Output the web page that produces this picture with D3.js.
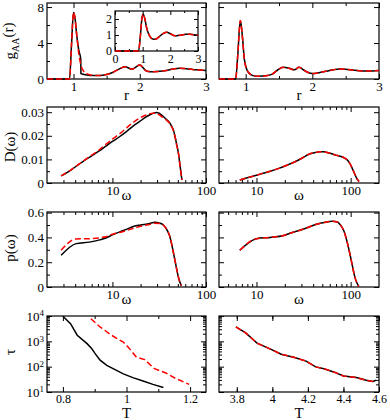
<!DOCTYPE html>
<html>
<head>
<meta charset="utf-8">
<script src="https://cdn.jsdelivr.net/npm/d3@7/dist/d3.min.js"></script>
<style>
  body { margin: 0; background: #fff; }
</style>
</head>
<body>
<svg id="chart" width="390" height="420"></svg>
<script>
// ---- values ----

// g_AA(r), left column (black has a small step after the first peak)
var grLeftBlackR = [0.6, 0.94, 0.97, 1.0, 1.02, 1.05, 1.08, 1.11, 1.112, 1.2, 1.3, 1.4, 1.5, 1.6, 1.7, 1.78, 1.88, 2.0, 2.1, 2.2, 2.3, 2.4, 2.5, 2.6, 2.7, 2.8, 2.9, 3.0];
var grLeftBlackG = [0, 0, 3.8, 7.4, 6.9, 4.8, 3.2, 2.2, 0.6, 0.45, 0.38, 0.38, 0.5, 0.75, 1.15, 1.35, 1.1, 1.55, 0.9, 0.8, 0.85, 0.95, 1.1, 1.2, 1.15, 1.05, 1.0, 0.95];
var grLeftRedR = [0.6, 0.94, 0.97, 1.0, 1.02, 1.05, 1.08, 1.11, 1.15, 1.2, 1.3, 1.4, 1.5, 1.6, 1.7, 1.78, 1.88, 2.0, 2.1, 2.2, 2.3, 2.4, 2.5, 2.6, 2.7, 2.8, 2.9, 3.0];
var grLeftRedG = [0, 0, 3.8, 7.4, 6.9, 4.8, 2.8, 1.6, 0.9, 0.6, 0.4, 0.38, 0.5, 0.75, 1.15, 1.35, 1.1, 1.55, 0.9, 0.8, 0.85, 0.95, 1.1, 1.2, 1.15, 1.05, 1.0, 0.95];

// inset
var grInsetR = [0, 0.85, 0.92, 0.97, 1.02, 1.08, 1.15, 1.25, 1.35, 1.45, 1.6, 1.75, 1.87, 2.0, 2.12, 2.23, 2.4, 2.55, 2.7, 2.85, 3.0];
var grInsetG = [0, 0, 1.0, 2.0, 2.3, 2.0, 1.4, 0.95, 0.76, 0.73, 0.9, 1.1, 1.17, 1.08, 0.97, 0.95, 1.0, 1.04, 1.05, 1.02, 1.0];

// g_AA(r), right column
var grRightR = [0.6, 0.85, 0.88, 0.92, 0.95, 0.98, 1.02, 1.06, 1.1, 1.15, 1.2, 1.3, 1.4, 1.48, 1.56, 1.65, 1.73, 1.8, 1.87, 1.93, 2.0, 2.1, 2.2, 2.3, 2.4, 2.5, 2.6, 2.7, 2.8, 2.9, 3.0];
var grRightBlackG = [0, 0, 2.5, 6.5, 4.8, 2.2, 1.0, 0.6, 0.4, 0.32, 0.3, 0.35, 0.55, 1.0, 1.3, 1.2, 1.02, 1.3, 1.0, 0.75, 0.6, 0.7, 0.85, 1.0, 1.12, 1.08, 1.0, 0.92, 0.88, 0.9, 0.95];
var grRightRedG = [0, 0, 2.5, 6.5, 4.8, 2.2, 1.0, 0.6, 0.4, 0.32, 0.3, 0.35, 0.55, 1.0, 1.3, 1.2, 1.02, 1.3, 1.0, 0.75, 0.6, 0.7, 0.85, 1.0, 1.12, 1.08, 1.0, 0.92, 0.88, 0.9, 0.95];

// D(omega)
var dosLeftW = [2.83, 3.6, 4.83, 6, 7.3, 8.5, 10, 12, 14.1, 16.5, 19.6, 22.5, 25.2, 27.5, 29.7, 32, 35, 38.1, 41, 43, 45, 46.7, 48.5, 50.8, 53, 55.3];
var dosLeftBlack = [0.003, 0.0055, 0.0091, 0.0115, 0.0137, 0.0156, 0.0176, 0.0197, 0.0218, 0.024, 0.0261, 0.0278, 0.0289, 0.0296, 0.0299, 0.0294, 0.0282, 0.0268, 0.0255, 0.024, 0.0222, 0.0197, 0.0165, 0.0126, 0.0068, 0.0013];
var dosLeftRed = [0.003, 0.0056, 0.0092, 0.0118, 0.0142, 0.0164, 0.0186, 0.0209, 0.0233, 0.0255, 0.0275, 0.0287, 0.0294, 0.0296, 0.0294, 0.0288, 0.0276, 0.0265, 0.0252, 0.0238, 0.022, 0.0195, 0.0163, 0.0124, 0.0066, 0.0012];
var dosRightW = [6.65, 8, 10, 11.5, 14, 17.3, 21, 26, 31, 36, 42, 47, 52, 58, 64, 70, 75, 84, 92, 98, 104, 110, 116, 122.7];
var dosRightBlack = [0.0013, 0.0022, 0.0033, 0.004, 0.005, 0.0062, 0.0075, 0.0091, 0.0107, 0.0122, 0.0129, 0.0132, 0.0132, 0.0128, 0.0123, 0.0118, 0.0115, 0.0108, 0.0098, 0.0083, 0.0062, 0.004, 0.002, 0.0006];
var dosRightRed = [0.0013, 0.0022, 0.0033, 0.004, 0.005, 0.0062, 0.0075, 0.0091, 0.0107, 0.0122, 0.0129, 0.0132, 0.0132, 0.0128, 0.0123, 0.0118, 0.0115, 0.0108, 0.0098, 0.0083, 0.0062, 0.004, 0.002, 0.0006];

// p(omega)
var partLeftW = [2.83, 4.1, 5.66, 7.3, 8.5, 10, 12, 14.1, 17, 20, 25, 28.3, 32, 35, 37.6, 41, 44, 47, 50, 52, 54.5];
var partLeftBlack = [0.256, 0.35, 0.362, 0.38, 0.395, 0.42, 0.445, 0.465, 0.49, 0.5, 0.513, 0.522, 0.515, 0.5, 0.47, 0.41, 0.31, 0.2, 0.1, 0.05, 0.01];
var partLeftRed = [0.296, 0.388, 0.39, 0.397, 0.405, 0.425, 0.44, 0.455, 0.475, 0.49, 0.505, 0.515, 0.512, 0.5, 0.47, 0.41, 0.31, 0.2, 0.1, 0.05, 0.01];
var partRightW = [6.65, 10, 14, 19.5, 24, 29.4, 35, 42.4, 52, 64, 72, 78, 85, 92, 98, 104, 110, 117, 122];
var partRightBlack = [0.296, 0.39, 0.4, 0.416, 0.44, 0.46, 0.48, 0.504, 0.52, 0.53, 0.525, 0.5, 0.45, 0.36, 0.27, 0.176, 0.09, 0.03, 0.005];
var partRightRed = [0.296, 0.39, 0.4, 0.416, 0.44, 0.46, 0.48, 0.504, 0.52, 0.53, 0.525, 0.5, 0.45, 0.36, 0.27, 0.176, 0.09, 0.03, 0.005];

// tau(T)
var tauLeftBlackT = [0.8, 0.824, 0.845, 0.876, 0.891, 0.902, 0.917, 0.938, 0.964, 0.99, 1.02, 1.052, 1.083, 1.116];
var tauLeftBlack = [9800, 5000, 1740, 810, 510, 320, 180, 112, 76, 52, 37, 27, 20, 15];
var tauLeftRedT = [0.888, 0.917, 0.953, 0.99, 1.005, 1.031, 1.057, 1.088, 1.124, 1.155, 1.197];
var tauLeftRed = [7800, 3700, 1740, 930, 600, 240, 190, 83, 56, 34, 20];
var tauRightT = [3.795, 3.85, 3.914, 3.996, 4.05, 4.125, 4.19, 4.244, 4.29, 4.345, 4.4, 4.473, 4.528, 4.565, 4.583];
var tauRightBlack = [3700, 2140, 850, 470, 310, 230, 166, 98, 83, 62, 43, 37, 29, 26, 29];
var tauRightRed = [3700, 2140, 850, 470, 310, 230, 166, 98, 83, 62, 43, 37, 29, 26, 29];

// tick labels
var grXTicks = [1, 2, 3];
var grYTicks = [0, 4, 8];
var insetXTicks = [0, 1, 2, 3];
var insetYTicks = [0, 1, 2];
var omegaTicks = [10, 100];
var dosYTicks = [0, 0.01, 0.02, 0.03];
var partYTicks = [0, 0.2, 0.4, 0.6];
var tauTicks = [10, 100, 1000, 10000];
var tLeftTicks = [0.8, 1, 1.2];
var tRightTicks = [3.8, 4, 4.2, 4.4, 4.6];

// ---- layout ----
var serif = "'Liberation Serif', 'Times New Roman', serif";
var svg = d3.select("#chart");
var colL = [47, 206], colR = [219, 379];
var rows = [[79, 3], [183, 107], [287, 212], [392, 316]];

function steps(lo, hi, step) {
  return d3.range(Math.round(lo / step), Math.round(hi / step) + 1).map(function (i) { return +(i * step).toFixed(6); });
}
function logMinor(lo, hi) {
  var out = [];
  for (var e = -1; e < 5; e++) {
    for (var m = 2; m < 10; m++) {
      var v = m * Math.pow(10, e);
      if (v > lo && v < hi) out.push(v);
    }
  }
  return out;
}

function addTicks(g, scale, gen, values, size, fmt, tr) {
  var a = gen(scale).tickValues(values).tickSize(-size).tickPadding(3)
    .tickFormat(fmt ? fmt : function () { return ""; });
  var s = g.append("g").attr("transform", tr).call(a);
  s.select(".domain").remove();
  s.attr("font-family", serif).attr("font-size", 13);
  s.selectAll("line").attr("stroke", "#000");
  s.selectAll("text").attr("fill", "#000");
  return s;
}

function frame(x, y, o) {
  var g = svg.append("g");
  var left = x.range()[0], right = x.range()[1];
  var bottom = y.range()[0], top = y.range()[1];
  g.append("rect").attr("x", left).attr("y", top)
    .attr("width", right - left).attr("height", bottom - top)
    .attr("fill", o.fill || "none").attr("stroke", "#000").attr("stroke-width", 1.2);
  var ts = o.tick || 5, tm = o.minor || 3;
  o.xAxis = addTicks(g, x, d3.axisBottom, o.xMajor, ts, o.xFmt, "translate(0," + bottom + ")");
  addTicks(g, x, d3.axisBottom, o.xMinor, tm, null, "translate(0," + bottom + ")");
  addTicks(g, x, d3.axisTop, o.xMajor, ts, null, "translate(0," + top + ")");
  addTicks(g, x, d3.axisTop, o.xMinor, tm, null, "translate(0," + top + ")");
  o.yAxis = addTicks(g, y, d3.axisLeft, o.yMajor, ts, o.yFmt, "translate(" + left + ",0)");
  addTicks(g, y, d3.axisLeft, o.yMinor, tm, null, "translate(" + left + ",0)");
  addTicks(g, y, d3.axisRight, o.yMajor, ts, null, "translate(" + right + ",0)");
  addTicks(g, y, d3.axisRight, o.yMinor, tm, null, "translate(" + right + ",0)");
  return g;
}

function drawLine(x, y, xs, ys, color, dashed, curve) {
  var line = d3.line()
    .x(function (d, i) { return x(xs[i]); })
    .y(function (d) { return y(d); })
    .curve(curve || d3.curveMonotoneX);
  svg.append("path").datum(ys)
    .attr("d", line)
    .attr("fill", "none")
    .attr("stroke", color)
    .attr("stroke-width", 1.5)
    .attr("stroke-dasharray", dashed ? "6,3" : null);
}

function xTitle(text, x, y) {
  svg.append("text").attr("x", (x.range()[0] + x.range()[1]) / 2).attr("y", y)
    .attr("text-anchor", "middle").attr("font-family", serif).attr("font-size", 15)
    .text(text);
}
function yTitle(parts, cy) {
  var t = svg.append("text").attr("transform", "translate(15," + cy + ") rotate(-90)")
    .attr("text-anchor", "middle").attr("font-family", serif).attr("font-size", 15);
  parts.forEach(function (p) {
    var s = t.append("tspan").text(p.t);
    if (p.sub) s.attr("font-size", 10).attr("dy", "0.35em");
    if (p.back) s.attr("dy", "-0.35em");
  });
}

var fmtPlain = function (d) { return String(d); };

// ---- row 1: g_AA(r) ----
var xGrL = d3.scaleLinear().domain([0.6, 3]).range(colL);
var xGrR = d3.scaleLinear().domain([0.6, 3]).range(colR);
var yGrL = d3.scaleLinear().domain([0, 8.45]).range(rows[0]);
var yGrR = d3.scaleLinear().domain([0, 8.45]).range(rows[0]);
frame(xGrL, yGrL, { xMajor: grXTicks, xMinor: [1.5, 2.5], xFmt: fmtPlain, yMajor: grYTicks, yMinor: [2, 6], yFmt: fmtPlain });
frame(xGrR, yGrR, { xMajor: grXTicks, xMinor: [1.5, 2.5], xFmt: fmtPlain, yMajor: grYTicks, yMinor: [2, 6] });
drawLine(xGrL, yGrL, grLeftBlackR, grLeftBlackG, "#000", false);
drawLine(xGrL, yGrL, grLeftRedR, grLeftRedG, "#f00", true);
drawLine(xGrR, yGrR, grRightR, grRightBlackG, "#000", false);
drawLine(xGrR, yGrR, grRightR, grRightRedG, "#f00", true);

// inset
var xIn = d3.scaleLinear().domain([0, 3]).range([115, 198]);
var yIn = d3.scaleLinear().domain([0, 2.5]).range([51, 11]);
var inset = frame(xIn, yIn, { fill: "#fff", tick: 4, minor: 2, xMajor: insetXTicks, xMinor: [0.5, 1.5, 2.5], xFmt: fmtPlain, yMajor: insetYTicks, yMinor: [0.5, 1.5], yFmt: fmtPlain });
inset.selectAll("text").attr("font-size", 12);
drawLine(xIn, yIn, grInsetR, grInsetG, "#000", false);
drawLine(xIn, yIn, grInsetR, grInsetG, "#f00", true);

xTitle("r", xGrL, 100);
xTitle("r", xGrR, 100);
yTitle([{ t: "g" }, { t: "AA", sub: true }, { t: "(r)", back: true }], 41);

// ---- row 2: D(omega) ----
var xWL = d3.scaleLog().domain([2, 100]).range(colL);
var xWR = d3.scaleLog().domain([4, 200]).range(colR);
var yDos = d3.scaleLinear().domain([0, 0.0322]).range(rows[1]);
frame(xWL, yDos, { xMajor: omegaTicks, xMinor: logMinor(2, 100), xFmt: fmtPlain, yMajor: dosYTicks, yMinor: [0.005, 0.015, 0.025], yFmt: fmtPlain });
frame(xWR, yDos, { xMajor: omegaTicks, xMinor: logMinor(4, 200), xFmt: fmtPlain, yMajor: dosYTicks, yMinor: [0.005, 0.015, 0.025] });
drawLine(xWL, yDos, dosLeftW, dosLeftBlack, "#000", false);
drawLine(xWL, yDos, dosLeftW, dosLeftRed, "#f00", true);
drawLine(xWR, yDos, dosRightW, dosRightBlack, "#000", false);
drawLine(xWR, yDos, dosRightW, dosRightRed, "#f00", true);
xTitle("\u03c9", xWL, 200);
xTitle("\u03c9", xWR, 200);
yTitle([{ t: "D(\u03c9)" }], 147);

// ---- row 3: p(omega) ----
var yPart = d3.scaleLinear().domain([0, 0.605]).range(rows[2]);
frame(xWL, yPart, { xMajor: omegaTicks, xMinor: logMinor(2, 100), xFmt: fmtPlain, yMajor: partYTicks, yMinor: [0.1, 0.3, 0.5], yFmt: fmtPlain });
frame(xWR, yPart, { xMajor: omegaTicks, xMinor: logMinor(4, 200), xFmt: fmtPlain, yMajor: partYTicks, yMinor: [0.1, 0.3, 0.5] });
drawLine(xWL, yPart, partLeftW, partLeftBlack, "#000", false);
drawLine(xWL, yPart, partLeftW, partLeftRed, "#f00", true);
drawLine(xWR, yPart, partRightW, partRightBlack, "#000", false);
drawLine(xWR, yPart, partRightW, partRightRed, "#f00", true);
xTitle("\u03c9", xWL, 304);
xTitle("\u03c9", xWR, 304);
yTitle([{ t: "p(\u03c9)" }], 248);

// ---- row 4: tau(T) ----
var xTL = d3.scaleLinear().domain([0.75, 1.25]).range(colL);
var xTR = d3.scaleLinear().domain([3.7, 4.6]).range(colR);
var yTau = d3.scaleLog().domain([10, 10000]).range(rows[3]);
var tauL = { xMajor: tLeftTicks, xMinor: [0.9, 1.1], xFmt: fmtPlain, yMajor: tauTicks, yMinor: logMinor(10, 10000), yFmt: function () { return "10"; } };
frame(xTL, yTau, tauL);
tauL.yAxis.selectAll(".tick text").append("tspan")
  .attr("dy", "-0.5em").attr("font-size", 9)
  .text(function (d) { return Math.round(Math.log10(d)); });
var tauR = { xMajor: tRightTicks, xMinor: steps(3.7, 4.5, 0.2), xFmt: fmtPlain, yMajor: tauTicks, yMinor: logMinor(10, 10000) };
frame(xTR, yTau, tauR);
[tauL.xAxis, tauR.xAxis].forEach(function (a) {
  a.attr("font-size", 12).selectAll("text").attr("y", 2);
});
drawLine(xTL, yTau, tauLeftBlackT, tauLeftBlack, "#000", false, d3.curveLinear);
drawLine(xTL, yTau, tauLeftRedT, tauLeftRed, "#f00", true, d3.curveLinear);
drawLine(xTR, yTau, tauRightT, tauRightBlack, "#000", false, d3.curveLinear);
drawLine(xTR, yTau, tauRightT, tauRightRed, "#f00", true, d3.curveLinear);
xTitle("T", xTL, 418);
xTitle("T", xTR, 418);
yTitle([{ t: "\u03c4" }], 352);
</script>
</body>
</html>
